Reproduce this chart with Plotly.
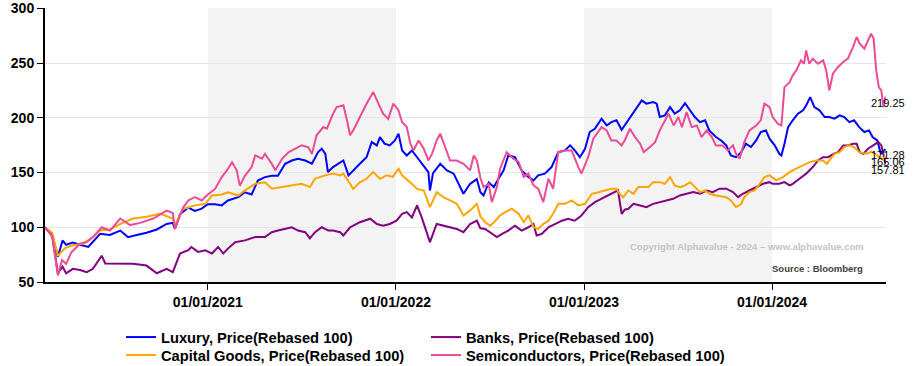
import plotly.graph_objects as go

# ---------------- data ----------------
lux_dates = ["2020-02-20","2020-03-05","2020-03-16","2020-03-25","2020-04-01","2020-04-14","2020-04-28","2020-05-14","2020-06-06","2020-06-25",
 "2020-07-15","2020-07-30","2020-08-16","2020-09-04","2020-09-24","2020-10-13","2020-10-25","2020-10-29","2020-11-08","2020-11-24",
 "2020-12-07","2020-12-20","2021-01-01","2021-01-15","2021-01-28","2021-02-09","2021-03-01","2021-03-14","2021-03-27","2021-04-08",
 "2021-04-22","2021-05-05","2021-05-17","2021-05-31","2021-06-13","2021-06-25","2021-07-09","2021-07-22","2021-08-03","2021-08-10",
 "2021-08-17","2021-08-22","2021-09-01","2021-09-21","2021-10-01","2021-10-10","2021-10-23","2021-11-05","2021-11-15","2021-11-25",
 "2021-12-01","2021-12-10","2021-12-20","2021-12-30","2022-01-06","2022-01-13","2022-01-22","2022-02-01","2022-02-11","2022-02-24",
 "2022-03-05","2022-03-08","2022-03-14","2022-03-28","2022-04-10","2022-04-23","2022-05-06","2022-05-12","2022-05-25","2022-06-07",
 "2022-06-14","2022-06-20","2022-06-30","2022-07-10","2022-07-19","2022-07-29","2022-08-07","2022-08-20","2022-09-02","2022-09-15",
 "2022-09-25","2022-10-04","2022-10-17","2022-10-30","2022-11-12","2022-11-25","2022-12-05","2022-12-14","2022-12-24","2023-01-03",
 "2023-01-12","2023-01-22","2023-02-04","2023-02-14","2023-02-23","2023-03-05","2023-03-15","2023-03-21","2023-03-28","2023-04-07",
 "2023-04-16","2023-04-23","2023-05-02","2023-05-15","2023-05-22","2023-05-28","2023-06-07","2023-06-17","2023-06-26","2023-07-06",
 "2023-07-16","2023-07-26","2023-08-04","2023-08-14","2023-08-24","2023-09-01","2023-09-14","2023-09-24","2023-10-04","2023-10-13",
 "2023-10-23","2023-11-02","2023-11-11","2023-11-21","2023-12-01","2023-12-10","2023-12-20","2023-12-27","2024-01-06","2024-01-15",
 "2024-01-19","2024-01-25","2024-02-01","2024-02-10","2024-02-20","2024-03-01","2024-03-07","2024-03-15","2024-03-23","2024-04-02",
 "2024-04-12","2024-04-21","2024-05-01","2024-05-11","2024-05-20","2024-05-30","2024-06-08","2024-06-18","2024-06-28","2024-07-07",
 "2024-07-14","2024-07-23","2024-07-30","2024-08-05","2024-08-08"]
lux_values = [100,93,73,88,84,86,84,82,94,93,
 97,91,93,95,98,103,104,98.5,112,118,
 115,117,121,121,120,124.5,127.5,132,130,142.7,
 145.8,147,147,158,161,162.6,161,158,168.7,171.7,
 167,150.4,155,161,147.4,152,158,164,177.8,174.8,
 182.4,176.4,174.8,179.3,185.5,170.2,165.6,170.2,164,156.5,
 150.4,133.6,149.5,158,152,149,136.7,130.6,139.7,144,
 132,129,141,136.7,144.4,152,165.6,164,152,146,
 142.8,147.4,149,155,168.6,170.2,174.8,170.2,164,171.7,
 187,190,199.2,193,196,197.7,189,193,197.7,205.2,
 211.3,215.9,212.9,214.4,212.9,200.7,202.2,209.8,203.8,206.8,
 213.4,206.8,200.7,196,197.7,188.5,182.4,179.3,174.8,165.6,
 164,168.6,176.3,173.3,179.3,187,188.5,180.9,174.8,167.1,
 165.6,176.3,191.5,197.7,203.8,206.8,211.3,218.9,209.8,206.8,
 200.7,200.7,199.2,202.2,200.7,196,197.7,191.5,187,188.5,
 182.4,179.3,167.1,170,171.28]

banks_dates = ["2020-02-20","2020-03-05","2020-03-16","2020-03-25","2020-04-01","2020-04-14","2020-04-28","2020-05-11","2020-05-23","2020-06-09",
 "2020-06-16","2020-07-15","2020-08-09","2020-09-04","2020-09-24","2020-10-13","2020-10-25","2020-11-08","2020-11-24","2020-11-30",
 "2020-12-13","2020-12-27","2021-01-09","2021-01-21","2021-01-31","2021-02-09","2021-02-23","2021-03-14","2021-04-03","2021-04-22",
 "2021-05-05","2021-05-17","2021-05-31","2021-06-13","2021-06-25","2021-07-09","2021-07-18","2021-07-28","2021-08-10","2021-08-23",
 "2021-09-01","2021-09-15","2021-09-21","2021-10-04","2021-10-23","2021-11-12","2021-11-25","2021-12-07","2021-12-20","2022-01-02",
 "2022-01-13","2022-01-22","2022-02-01","2022-02-11","2022-02-20","2022-03-02","2022-03-08","2022-03-21","2022-04-03","2022-04-16",
 "2022-04-29","2022-05-12","2022-05-25","2022-06-07","2022-06-14","2022-06-23","2022-07-06","2022-07-16","2022-07-26","2022-08-07",
 "2022-08-20","2022-09-02","2022-09-15","2022-09-25","2022-10-01","2022-10-11","2022-10-24","2022-11-06","2022-11-19","2022-12-01",
 "2022-12-14","2022-12-27","2023-01-09","2023-01-22","2023-02-04","2023-02-17","2023-03-02","2023-03-08","2023-03-15","2023-03-21",
 "2023-03-28","2023-04-07","2023-04-20","2023-05-02","2023-05-15","2023-05-28","2023-06-10","2023-06-23","2023-07-06","2023-07-19",
 "2023-08-01","2023-08-14","2023-08-27","2023-09-08","2023-09-21","2023-10-04","2023-10-17","2023-10-27","2023-11-05","2023-11-18",
 "2023-12-01","2023-12-14","2023-12-27","2024-01-02","2024-01-15","2024-01-25","2024-02-04","2024-02-10","2024-02-23","2024-03-07",
 "2024-03-20","2024-03-30","2024-04-09","2024-04-19","2024-04-29","2024-05-08","2024-05-18","2024-05-27","2024-06-06","2024-06-13",
 "2024-06-19","2024-06-26","2024-07-05","2024-07-15","2024-07-25","2024-07-31","2024-08-05","2024-08-08"]
banks_values = [100,92,58,64,58,62,61,59,62,74,
 67,66.6,66.6,65,58,62,59,76,79,82,
 77.5,79,76,82,76,80.5,86.4,88,91,91,
 95.5,97,98.5,100,97,95.5,89.8,95.5,100,97,
 97,95.5,92.5,100,104.6,107.8,103,101.5,103,106,
 112.3,113.8,109,120,109,95.5,86.4,103,101.5,100,
 98.5,95.5,103,106,99,98.5,94,91,94,97,
 101.5,97,100,103,92.5,94,100,103,106,107.8,
 106,110.8,118.4,123,126,129,132,133.7,112.3,116,
 116.9,121.4,119.9,118.4,121.4,123,124.5,126,129.1,130.6,
 132.1,130.6,133.6,132.1,135.2,135.2,132.1,127.5,130.6,133.6,
 136.7,139.7,141.2,139.7,139.7,141.2,138.2,139.7,144.3,149,
 155,161,164,164,167.1,168.6,174.8,174.8,176.3,176.3,
 168.6,167.1,171.7,174.8,177.8,174.8,164,157.81]

capg_dates = ["2020-02-20","2020-03-05","2020-03-16","2020-03-30","2020-04-14","2020-05-04","2020-05-23","2020-06-06","2020-06-25","2020-07-15",
 "2020-08-09","2020-09-04","2020-10-01","2020-10-25","2020-10-29","2020-11-14","2020-11-24","2020-12-07","2020-12-27","2021-01-09",
 "2021-01-28","2021-02-09","2021-03-01","2021-03-14","2021-04-03","2021-04-22","2021-05-05","2021-05-24","2021-06-13","2021-07-02",
 "2021-07-18","2021-07-28","2021-08-17","2021-09-01","2021-09-15","2021-09-21","2021-10-04","2021-10-10","2021-10-23","2021-11-05",
 "2021-11-18","2021-12-01","2021-12-14","2021-12-26","2022-01-06","2022-01-13","2022-01-29","2022-02-11","2022-02-24","2022-03-08",
 "2022-03-21","2022-04-03","2022-04-16","2022-04-29","2022-05-12","2022-05-25","2022-06-07","2022-06-14","2022-06-23","2022-07-03",
 "2022-07-13","2022-07-22","2022-08-01","2022-08-14","2022-08-27","2022-09-06","2022-09-15","2022-09-25","2022-10-04","2022-10-14",
 "2022-10-24","2022-11-02","2022-11-12","2022-11-25","2022-12-08","2022-12-21","2023-01-03","2023-01-16","2023-01-29","2023-02-10",
 "2023-02-23","2023-03-05","2023-03-11","2023-03-18","2023-03-28","2023-04-07","2023-04-16","2023-05-06","2023-05-15","2023-05-28",
 "2023-06-07","2023-06-17","2023-06-26","2023-07-06","2023-07-16","2023-07-26","2023-08-04","2023-08-14","2023-08-24","2023-09-01",
 "2023-09-14","2023-10-04","2023-10-13","2023-10-23","2023-11-02","2023-11-08","2023-11-18","2023-11-28","2023-12-08","2023-12-17",
 "2023-12-27","2024-01-09","2024-01-22","2024-02-04","2024-02-17","2024-03-01","2024-03-14","2024-03-27","2024-04-09","2024-04-16",
 "2024-04-21","2024-05-01","2024-05-11","2024-05-20","2024-05-30","2024-06-08","2024-06-18","2024-07-01","2024-07-11","2024-07-20",
 "2024-07-27","2024-08-03","2024-08-08"]
capg_values = [100,95,74,81,83.5,85,91,97,98,103,
 108,109.6,112.3,108,102,117,118,120,121.4,129,
 130,132,129,133.7,139.7,141,135.2,136.7,138,139.7,
 136.7,144.4,147.4,149,147.4,149,139.7,135,141,144.3,
 150.4,144.3,147.4,146,153.5,147.4,141,135,133.6,118.4,
 132,127.5,124.5,121.4,110.8,115.4,121.4,110,104.6,101.5,
 106,110.8,113.8,116.9,112.3,104.6,110.8,100,98.5,103,
 106,112.3,121.4,121.4,124.5,120,121.4,130.6,132,133.7,
 135.2,135.2,130.6,127.5,133.6,130.6,136.7,136.7,141.2,141.2,
 139.7,145.8,138.2,136.7,138.2,141.2,136.7,132.1,133.6,130.6,
 129.1,127.5,124.5,118.4,121.4,127.5,132.1,133.6,139.7,145.8,
 147.4,142.8,145.8,150.4,153.5,156.5,159.5,161,161,158,
 161,167.1,168.6,173.3,174.8,173.3,168.6,167.1,168.6,167.1,
 164,162,165.06]

semi_dates = ["2020-02-20","2020-03-05","2020-03-16","2020-03-24","2020-04-01","2020-04-11","2020-04-28","2020-05-11","2020-05-23","2020-06-09",
 "2020-06-25","2020-07-15","2020-08-03","2020-08-23","2020-09-17","2020-10-13","2020-10-25","2020-10-29","2020-11-14","2020-11-24",
 "2020-12-07","2020-12-20","2021-01-01","2021-01-15","2021-01-28","2021-02-07","2021-02-17","2021-02-26","2021-03-04","2021-03-14",
 "2021-03-27","2021-04-03","2021-04-16","2021-04-22","2021-05-05","2021-05-12","2021-05-25","2021-06-07","2021-06-19","2021-07-02",
 "2021-07-15","2021-07-22","2021-07-31","2021-08-13","2021-08-20","2021-09-01","2021-09-08","2021-09-21","2021-09-28","2021-10-04",
 "2021-10-10","2021-10-23","2021-11-05","2021-11-18","2021-11-28","2021-12-07","2021-12-17","2021-12-27","2022-01-06","2022-01-13",
 "2022-01-22","2022-01-29","2022-02-04","2022-02-14","2022-02-24","2022-03-05","2022-03-12","2022-03-21","2022-03-28","2022-04-06",
 "2022-04-16","2022-04-29","2022-05-12","2022-05-25","2022-06-01","2022-06-07","2022-06-14","2022-06-20","2022-06-30","2022-07-06",
 "2022-07-16","2022-07-22","2022-08-04","2022-08-17","2022-08-27","2022-09-06","2022-09-15","2022-09-25","2022-10-04","2022-10-14",
 "2022-10-24","2022-11-02","2022-11-12","2022-11-25","2022-12-08","2022-12-21","2022-12-27","2023-01-09","2023-01-19","2023-02-04",
 "2023-02-14","2023-02-23","2023-03-05","2023-03-15","2023-03-21","2023-03-31","2023-04-10","2023-04-20","2023-04-27","2023-05-09",
 "2023-05-19","2023-05-28","2023-06-07","2023-06-14","2023-06-24","2023-07-03","2023-07-10","2023-07-19","2023-07-29","2023-08-08",
 "2023-08-17","2023-08-27","2023-09-06","2023-09-14","2023-09-27","2023-10-07","2023-10-17","2023-10-23","2023-10-30","2023-11-08",
 "2023-11-18","2023-12-01","2023-12-10","2023-12-17","2023-12-27","2024-01-02","2024-01-12","2024-01-19","2024-01-25","2024-02-04",
 "2024-02-10","2024-02-17","2024-02-26","2024-03-03","2024-03-07","2024-03-13","2024-03-20","2024-03-30","2024-04-09","2024-04-15",
 "2024-04-21","2024-04-28","2024-05-08","2024-05-18","2024-05-27","2024-06-06","2024-06-13","2024-06-19","2024-06-28","2024-07-05",
 "2024-07-11","2024-07-16","2024-07-21","2024-07-26","2024-07-31","2024-08-04","2024-08-08"]
semi_values = [100,92,56,70,66.6,77,85,86.5,91,100,
 97,108,102,104,108,115.3,113,98.5,118,124.5,
 127.5,124.5,130,135,145.8,151.9,159.5,152,138,147,
 155,165.6,162.6,167,158,152,162.6,168.7,171.7,174.8,
 173,167,184,191.5,190,203.7,209.8,211.4,197.7,184,
 188.5,200.7,212.9,223.5,212.9,203.8,199,212.9,206.8,196,
 191.5,176.3,170.2,179.3,171.7,161,167,179.3,185.5,173.3,
 161,161,158,152,165.6,161,145,136.7,139.7,123,
 136.7,153.5,168.6,162.6,159.6,146,149,138.2,135.2,123,
 144.4,135.2,168.6,170.2,170.2,155,149,164,180.9,191.5,
 188.5,179.3,179.3,174.8,179.3,190,182.4,176.3,168.7,173.3,
 177.8,188.5,197.7,203.7,193,200.7,191.5,205.2,191.5,193,
 182.4,188.5,182.4,174.8,174.8,170.2,174.8,167,162.6,177.8,
 188.5,193,197.7,212.9,209.8,200.7,194.6,193,228,232.6,
 238.8,243.3,252.5,249.4,261.6,249.4,254,249.4,252.5,243.3,
 225,240.3,246.4,251,254,264.6,273.8,267.7,263.1,270.7,
 276.8,272.3,243.3,228,225,209.8,219.25]

series_names = ["Luxury, Price(Rebased 100)", "Banks, Price(Rebased 100)",
                "Capital Goods, Price(Rebased 100)", "Semiconductors, Price(Rebased 100)"]
series_dates = [lux_dates, banks_dates, capg_dates, semi_dates]
series_values = [lux_values, banks_values, capg_values, semi_values]
series_colors = ["#0000FF", "#800080", "#FFA500", "#EC4C96"]
series_legend = ["legend", "legend", "legend2", "legend2"]

shaded_years = [("2021-01-01", "2022-01-01"), ("2023-01-01", "2024-01-01")]
x_tick_vals = ["2021-01-01", "2022-01-01", "2023-01-01", "2024-01-01"]
x_tick_text = ["01/01/2021", "01/01/2022", "01/01/2023", "01/01/2024"]
y_tick_vals = [50, 100, 150, 200, 250, 300]

FONT = "Arial, Liberation Sans, sans-serif"

# ---------------- figure ----------------
fig = go.Figure()
for name, d, v, c, lg in zip(series_names, series_dates, series_values, series_colors, series_legend):
    fig.add_trace(go.Scatter(x=d, y=v, name=name, mode="lines", legend=lg,
                             line=dict(color=c, width=2)))

for x0, x1 in shaded_years:
    fig.add_shape(type="rect", xref="x", yref="paper", x0=x0, x1=x1, y0=0, y1=1,
                  fillcolor="#F3F3F3", line=dict(width=0), layer="below")

# end-value labels
for d, v in zip(series_dates, series_values):
    fig.add_annotation(x=d[-1], y=v[-1], text=f"{v[-1]:.2f}", showarrow=False,
                       xanchor="center", yanchor="top", yshift=2, xshift=3,
                       font=dict(family=FONT, size=11, color="#000000"))

fig.add_annotation(x=0.835, y=0.13, xref="paper", yref="paper", xanchor="center", yanchor="middle",
                   text="<b>Copyright Alphavalue - 2024 – www.alphavalue.com</b>", showarrow=False,
                   font=dict(family=FONT, size=9.5, color="#C4C4C4"))
fig.add_annotation(x=0.975, y=0.05, xref="paper", yref="paper", xanchor="right", yanchor="middle",
                   text="<b>Source : Bloomberg</b>", showarrow=False,
                   font=dict(family=FONT, size=9.5, color="#404040"))

legend_common = dict(orientation="h", xref="container", yref="container", xanchor="left", yanchor="top",
                     entrywidth=260, entrywidthmode="pixels", itemwidth=30,
                     font=dict(family=FONT, size=14.7, color="#000000", weight="bold"),
                     bgcolor="rgba(0,0,0,0)")

fig.update_layout(
    width=919, height=366,
    margin=dict(l=45, r=33, t=8, b=84, autoexpand=False),
    paper_bgcolor="white", plot_bgcolor="white",
    font=dict(family=FONT, color="#000000"),
    showlegend=True,
    legend=dict(x=121 / 919, y=1 - 321 / 366, **legend_common),
    legend2=dict(x=121 / 919, y=1 - 339 / 366, **legend_common),
    xaxis=dict(type="date", range=["2020-02-20", "2024-08-09"], automargin=False,
               tickvals=x_tick_vals, ticktext=x_tick_text,
               showgrid=False, zeroline=False,
               showline=True, linecolor="#000000", linewidth=2,
               ticks="outside", ticklen=6, tickcolor="#000000", tickwidth=1,
               tickfont=dict(family=FONT, size=14, color="#000000", weight="bold")),
    yaxis=dict(range=[50, 300.3], tickvals=y_tick_vals, automargin=False,
               showgrid=True, gridcolor="#E6E6E6", gridwidth=1, zeroline=False,
               showline=True, linecolor="#000000", linewidth=2,
               ticks="outside", ticklen=6, tickcolor="#000000", tickwidth=1,
               tickfont=dict(family=FONT, size=14, color="#000000", weight="bold")),
)

fig.write_html("out.html", config={"displayModeBar": False},
               post_script="document.body.style.margin='0';document.body.style.overflow='hidden';")
